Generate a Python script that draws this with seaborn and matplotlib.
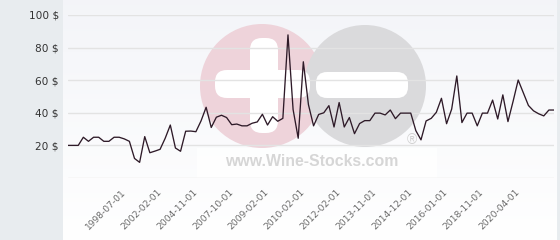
import numpy as np
import pandas as pd
import matplotlib
matplotlib.use("Agg")
import matplotlib.pyplot as plt
from matplotlib.patches import Circle, FancyBboxPatch
import seaborn as sns

# ---- data ----
prices = [20, 20, 20, 25, 22.5, 25, 25, 22.5, 22.5, 25,
          25, 24, 22.5, 12, 9.6, 25.4, 15.5, 16.5, 17.6, 24.4,
          32.5, 18.4, 16.4, 28.7, 28.8, 28.4, 35, 43.4, 31, 37.3,
          38.5, 37.1, 32.7, 33.1, 32, 32, 33.6, 34.4, 39.1, 32.5,
          37.6, 34.8, 36.6, 87.8, 42, 24.4, 71.3, 45, 32, 39,
          40, 44.4, 31.3, 46.3, 31.3, 37.1, 27.2, 33.4, 35.2, 35.2,
          39.8, 39.8, 38.7, 41.7, 36.4, 39.8, 39.8, 39.8, 29, 23.4,
          35, 36.6, 40.3, 48.9, 33.3, 42.3, 62.6, 34, 39.8, 39.8,
          32, 39.8, 39.8, 47.8, 36.2, 51, 34.6, 47, 60.1, 52.3,
          44.5, 41.2, 39.4, 38.1, 41.7, 41.7]
tick_labels = ["1998-07-01", "2002-02-01", "2004-11-01", "2007-10-01",
               "2009-02-01", "2010-02-01", "2012-02-01", "2013-11-01",
               "2014-12-01", "2016-01-01", "2018-11-01", "2020-04-01"]
y_ticks = [0, 20, 40, 60, 80, 100]
y_tick_labels = ["", "20 $", "40 $", "60 $", "80 $", "100 $"]

TICK_START, TICK_STEP = 11, 7

df = pd.DataFrame({"idx": np.arange(len(prices)), "price": prices})

sns.set_style("white")
plt.rcParams["font.family"] = ["DejaVu Sans"]

W, H = 560, 240
fig = plt.figure(figsize=(W / 100, H / 100), dpi=100)
fig.patch.set_facecolor("#e8ecef")

# white panel with soft vertical gradient
bg = fig.add_axes([63 / W, 0, 494 / W, 1])
grad = np.linspace(0, 1, 256).reshape(-1, 1)
top = np.array([0.955, 0.960, 0.975])
bot = np.array([1.0, 1.0, 1.0])
img = top[None, None, :] * (1 - grad[..., None]) + bot[None, None, :] * grad[..., None]
bg.imshow(img, aspect="auto", extent=[0, 1, 0, 1])
bg.set_axis_off()

# watermark (decoration, pixel coordinates)
wm = fig.add_axes([0, 0, 1, 1])
wm.set_xlim(0, W)
wm.set_ylim(H, 0)
wm.set_axis_off()
wm.add_patch(FancyBboxPatch((197, 148), 240, 30, boxstyle="square,pad=0",
                            fc="white", ec="none", alpha=0.8))
wm.add_patch(Circle((262, 86), 62, fc="#eed3da", ec="none"))
wm.add_patch(Circle((365, 86), 61, fc="#dadadc", ec="none"))
bw = 28
wm.add_patch(FancyBboxPatch((264 - bw / 2 + 2, 38 + 2), bw - 4, 95 - 4,
                            boxstyle="round,pad=2,rounding_size=12", fc="white", ec="none"))
wm.add_patch(FancyBboxPatch((215 + 2, 84 - bw / 2 + 2), 95 - 4, bw - 4,
                            boxstyle="round,pad=2,rounding_size=12", fc="white", ec="none"))
wm.add_patch(FancyBboxPatch((316 + 2, 85 - 13 + 2), 92 - 4, 26 - 4,
                            boxstyle="round,pad=2,rounding_size=11", fc="white", ec="none"))
wm.text(312, 166, "www.Wine-Stocks.com", ha="center", va="baseline",
        fontsize=11.4, fontweight="bold", color="#d6d6d6", family=["Liberation Sans", "DejaVu Sans"])
wm.text(412, 140, "®", ha="center", va="center", fontsize=10, color="#d0d0d0",
        family=["Liberation Sans", "DejaVu Sans"])

# main chart
ax = fig.add_axes([68 / W, 62 / H, 486 / W, 163 / H])
ax.set_facecolor("none")
sns.lineplot(data=df, x="idx", y="price", ax=ax, color="#2e1a28", linewidth=0.95)
ax.set_xlim(0, len(prices) - 1)
ax.set_ylim(0, 100)
ax.set_yticks(y_ticks)
ax.set_yticklabels(y_tick_labels)
tick_pos = [TICK_START + TICK_STEP * i for i in range(len(tick_labels))]
ax.set_xticks(tick_pos)
ax.set_xticklabels(tick_labels, rotation=45, ha="right", va="center",
                   rotation_mode="anchor")
ax.tick_params(axis="y", length=0, pad=6.5, labelsize=7.6, labelcolor="#333333")
ax.tick_params(axis="x", length=0, pad=9, labelsize=6.6, labelcolor="#6a6a6a")
ax.grid(axis="y", color="#e3e3e3", linewidth=1.0)
ax.grid(axis="x", visible=False)
ax.set_axisbelow(True)
for s in ax.spines.values():
    s.set_visible(False)
ax.set_xlabel("")
ax.set_ylabel("")

fig.savefig("out.png", dpi=100)
